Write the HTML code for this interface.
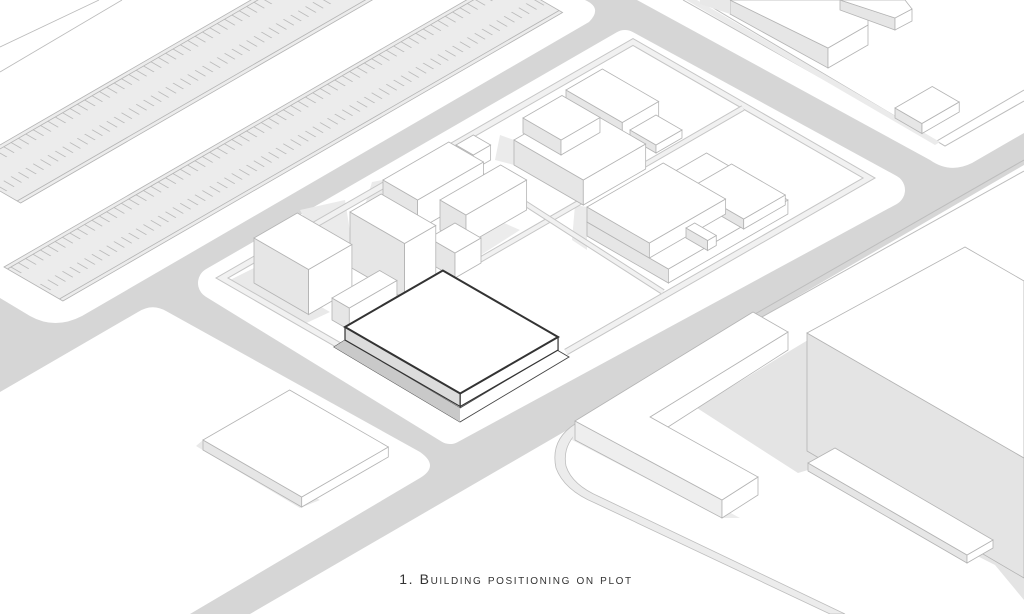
<!DOCTYPE html>
<html><head><meta charset="utf-8"><style>
html,body{margin:0;padding:0;background:#fff;}
svg{display:block;}
.e{stroke:#b4b4b4;stroke-width:0.8;vector-effect:non-scaling-stroke;}
.t{fill:#fff;}
.l{fill:#e6e6e6;}
.r{fill:#fff;}
.cap{font-family:"Liberation Sans Narrow","Liberation Sans",sans-serif;font-variant:small-caps;font-size:14px;letter-spacing:1.6px;fill:#333;}
</style></head><body>
<svg width="1024" height="614" viewBox="0 0 1024 614" xmlns="http://www.w3.org/2000/svg">
<defs>
<pattern id="ticks" width="8.5" height="70" patternUnits="userSpaceOnUse">
<line x1="4" y1="4" x2="4" y2="16" stroke="#b0b0b0" stroke-width="0.8" vector-effect="non-scaling-stroke"/>
<line x1="4" y1="38" x2="4" y2="50" stroke="#b0b0b0" stroke-width="0.8" vector-effect="non-scaling-stroke"/>
</pattern>
</defs>
<!-- road background -->
<rect width="1024" height="614" fill="#d6d6d6"/>
<!-- parking block -->
<path d="M0,0 H585 Q603,8 589,22 L82,316 Q55,330 30,316 L0,298 Z" fill="#fff"/>
<!-- central block -->
<polygon points="214,283 625,46 889,190 450,428" fill="#fff" stroke="#fff" stroke-width="32" stroke-linejoin="round"/>
<!-- lower-left block -->
<path d="M0,392 L138,312 Q152,303 166,311 L420,452 Q440,466 420,478 L190,614 L0,614 Z" fill="#fff"/>
<!-- lower-right region -->
<polygon points="250,614 1024,165 1024,614" fill="#fff"/>
<!-- upper-right block -->
<path d="M637,0 H1024 V133 L972,163 Q950,174 930,160 Z" fill="#fff"/>

<!-- top-left thin lines -->
<line x1="0" y1="47" x2="99" y2="0" stroke="#bbb" stroke-width="0.8"/>
<line x1="0" y1="72" x2="122" y2="0" stroke="#bbb" stroke-width="0.8"/>
<!-- parking strips -->
<g transform="matrix(0.866,-0.5,0.866,0.5,-40,168)">
<rect x="0" y="0" width="700" height="70" fill="#ececec" class="e"/>
<rect x="0" y="0" width="700" height="70" fill="url(#ticks)"/>
<line x1="0" y1="4" x2="700" y2="4" class="e"/><line x1="0" y1="66" x2="700" y2="66" class="e"/>
</g>
<g transform="matrix(0.866,-0.5,0.866,0.5,4,267)">
<rect x="0" y="0" width="577" height="68" fill="#ececec" class="e"/>
<rect x="0" y="0" width="577" height="68" fill="url(#ticks)"/>
<line x1="0" y1="4" x2="577" y2="4" class="e"/><line x1="0" y1="64" x2="577" y2="64" class="e"/>
</g>

<!-- upper-right sidewalk & buildings -->
<polyline points="683,0 935,142 1024,90" fill="none" stroke="#bdbdbd" stroke-width="1"/>
<polyline points="700,0 945,146 1024,101" fill="none" stroke="#bdbdbd" stroke-width="1"/>
<polygon points="686,0 697,0 940,142 935,145" fill="#ebebeb"/>
<polygon points="730,0 828,48 828,68 730,14" class="l e"/>
<polygon points="828,48 868,25 868,45 828,68" class="r e"/>
<polygon points="700,0 730,0 730,14 700,4" fill="#e8e8e8"/>
<polygon points="820,0 868,0 868,25 828,48 730,0" class="t e"/>
<polygon points="840,0 895,18 895,30 840,10" class="l e"/>
<polygon points="895,18 912,9 912,21 895,30" class="r e"/>
<polygon points="870,0 905,0 912,9 895,18 840,0" class="t e"/>
<g transform="matrix(0.866,0.5,0,1,895,108)"><rect width="31" height="10" class="l e"/></g>
<g transform="matrix(0.866,-0.5,0,1,922,123.5)"><rect width="43" height="10" class="r e"/></g>
<g transform="matrix(0.866,-0.5,0.866,0.5,895,108)"><rect width="43" height="31" class="t e"/></g>

<!-- central plot shadows -->
<polygon points="226,282 254,268 330,312 300,326" fill="#e9e9e9"/>
<polygon points="300,210 345,200 352,244 320,250" fill="#ebebeb"/>
<polygon points="372,182 383,180 383,210 365,205" fill="#ebebeb"/>
<polygon points="500,135 514,140 514,165 495,160" fill="#ebebeb"/>
<polygon points="575,205 587,207 587,250 572,240" fill="#ebebeb"/>
<polygon points="486,215 520,230 470,262" fill="#ececec"/>
<!-- plot walls -->
<g fill="none" stroke-linejoin="miter">
<polyline points="460,415 222,278 633,42 869,178 566,352" stroke="#c6c6c6" stroke-width="7"/>
<polyline points="460,415 222,278 633,42 869,178 566,352" stroke="#f1f1f1" stroke-width="5"/>
<line x1="743" y1="108" x2="445" y2="280" stroke="#c6c6c6" stroke-width="6"/>
<line x1="743" y1="108" x2="445" y2="280" stroke="#f1f1f1" stroke-width="4"/>
<line x1="470" y1="168" x2="663" y2="292" stroke="#c6c6c6" stroke-width="6"/>
<line x1="470" y1="168" x2="663" y2="292" stroke="#f1f1f1" stroke-width="4"/>
</g>

<!-- boxes: B5 -->
<g transform="matrix(0.866,0.5,0,1,566,90)"><rect width="65" height="22" class="l e"/></g>
<g transform="matrix(0.866,-0.5,0,1,622.3,122.5)"><rect width="42" height="22" class="r e"/></g>
<g transform="matrix(0.866,-0.5,0.866,0.5,566,90)"><rect width="42" height="65" class="t e"/></g>
<!-- B5s -->
<g transform="matrix(0.866,0.5,0,1,630,130)"><rect width="30" height="8" class="l e"/></g>
<g transform="matrix(0.866,-0.5,0,1,656,145)"><rect width="30" height="8" class="r e"/></g>
<g transform="matrix(0.866,-0.5,0.866,0.5,630,130)"><rect width="30" height="30" class="t e"/></g>
<!-- B4a -->
<g transform="matrix(0.866,0.5,0,1,514,140)"><rect width="80" height="25" class="l e"/></g>
<g transform="matrix(0.866,-0.5,0,1,583.3,180)"><rect width="72" height="25" class="r e"/></g>
<g transform="matrix(0.866,-0.5,0.866,0.5,514,140)"><rect width="72" height="80" class="t e"/></g>
<!-- B4b -->
<g transform="matrix(0.866,0.5,0,1,523,118)"><rect width="44" height="15" class="l e"/></g>
<g transform="matrix(0.866,-0.5,0,1,561,140)"><rect width="45" height="15" class="r e"/></g>
<g transform="matrix(0.866,-0.5,0.866,0.5,523,118)"><rect width="45" height="44" class="t e"/></g>
<!-- B3d -->
<g transform="matrix(0.866,0.5,0,1,456,145)"><rect width="20" height="15" class="l e"/></g>
<g transform="matrix(0.866,-0.5,0,1,473.3,155)"><rect width="20" height="15" class="r e"/></g>
<g transform="matrix(0.866,-0.5,0.866,0.5,456,145)"><rect width="20" height="20" class="t e"/></g>
<!-- B3a -->
<g transform="matrix(0.866,0.5,0,1,383,180)"><rect width="40" height="30" class="l e"/></g>
<g transform="matrix(0.866,-0.5,0,1,417.6,200)"><rect width="76" height="30" class="r e"/></g>
<g transform="matrix(0.866,-0.5,0.866,0.5,383,180)"><rect width="76" height="40" class="t e"/></g>
<!-- B3b -->
<g transform="matrix(0.866,0.5,0,1,440,200)"><rect width="30" height="30" class="l e"/></g>
<g transform="matrix(0.866,-0.5,0,1,466,215)"><rect width="70" height="30" class="r e"/></g>
<g transform="matrix(0.866,-0.5,0.866,0.5,440,200)"><rect width="70" height="30" class="t e"/></g>
<!-- B3c -->
<g transform="matrix(0.866,0.5,0,1,429,238)"><rect width="30" height="25" class="l e"/></g>
<g transform="matrix(0.866,-0.5,0,1,455,253)"><rect width="30" height="25" class="r e"/></g>
<g transform="matrix(0.866,-0.5,0.866,0.5,429,238)"><rect width="30" height="30" class="t e"/></g>
<!-- B1b -->
<g transform="matrix(0.866,0.5,0,1,350,212)"><rect width="63" height="55" class="l e"/></g>
<g transform="matrix(0.866,-0.5,0,1,404.6,243.5)"><rect width="36" height="55" class="r e"/></g>
<g transform="matrix(0.866,-0.5,0.866,0.5,350,212)"><rect width="36" height="63" class="t e"/></g>
<!-- B1 -->
<g transform="matrix(0.866,0.5,0,1,254,238)"><rect width="63" height="45" class="l e"/></g>
<g transform="matrix(0.866,-0.5,0,1,308.6,269.5)"><rect width="50" height="45" class="r e"/></g>
<g transform="matrix(0.866,-0.5,0.866,0.5,254,238)"><rect width="50" height="63" class="t e"/></g>
<!-- B2 -->
<g transform="matrix(0.866,0.5,0,1,332,298)"><rect width="20" height="22" class="l e"/></g>
<g transform="matrix(0.866,-0.5,0,1,349.3,308)"><rect width="55" height="22" class="r e"/></g>
<g transform="matrix(0.866,-0.5,0.866,0.5,332,298)"><rect width="55" height="20" class="t e"/></g>
<!-- B6 base -->
<g transform="matrix(0.866,0.5,0,1,587,222)"><rect width="94" height="14" class="l e"/></g>
<g transform="matrix(0.866,-0.5,0,1,668.4,269)"><rect width="138" height="14" class="r e"/></g>
<g transform="matrix(0.866,-0.5,0.866,0.5,587,222)"><rect width="138" height="94" class="t e"/></g>
<!-- B6c -->
<g transform="matrix(0.866,0.5,0,1,690,188)"><rect width="62" height="10" class="l e"/></g>
<g transform="matrix(0.866,-0.5,0,1,743.7,219)"><rect width="48" height="10" class="r e"/></g>
<g transform="matrix(0.866,-0.5,0.866,0.5,690,188)"><rect width="48" height="62" class="t e"/></g>
<!-- B6a -->
<g transform="matrix(0.866,0.5,0,1,587,207)"><rect width="72" height="15" class="l e"/></g>
<g transform="matrix(0.866,-0.5,0,1,649.4,243)"><rect width="88" height="15" class="r e"/></g>
<g transform="matrix(0.866,-0.5,0.866,0.5,587,207)"><rect width="88" height="72" class="t e"/></g>
<!-- B6s -->
<g transform="matrix(0.866,0.5,0,1,686,228)"><rect width="25" height="10" class="l e"/></g>
<g transform="matrix(0.866,-0.5,0,1,707.6,240.5)"><rect width="10" height="10" class="r e"/></g>
<g transform="matrix(0.866,-0.5,0.866,0.5,686,228)"><rect width="10" height="25" class="t e"/></g>

<!-- highlighted building -->
<polygon points="334,347 460,422 569,357 557,350 460,408 345,340" fill="#fff" stroke="#444" stroke-width="0.9"/>
<polygon points="334,347 345,340 460,408 460,422" fill="#c9c9c9"/>
<g transform="matrix(0.866,0.5,0,1,345,327)"><rect width="133" height="13" fill="#dcdcdc" stroke="#333" stroke-width="1.2" vector-effect="non-scaling-stroke"/></g>
<g transform="matrix(0.866,-0.5,0,1,460.2,393.5)"><rect width="113" height="13" fill="#fff" stroke="#333" stroke-width="1.2" vector-effect="non-scaling-stroke"/></g>
<g transform="matrix(0.866,-0.5,0.866,0.5,345,327)"><rect width="113" height="133" fill="#fff" stroke="#333" stroke-width="2" vector-effect="non-scaling-stroke"/></g>

<!-- lower-left building -->
<polygon points="196,446 300,508 320,500 203,440" fill="#e9e9e9"/>
<g transform="matrix(0.866,0.5,0,1,203,440)"><rect width="114" height="10" class="l e"/></g>
<g transform="matrix(0.866,-0.5,0,1,301.7,497)"><rect width="100" height="10" class="r e"/></g>
<g transform="matrix(0.866,-0.5,0.866,0.5,203,440)"><rect width="100" height="114" class="t e"/></g>

<!-- lower-right sidewalk lines -->
<polyline points="748,318 1024,160" fill="none" stroke="#bdbdbd" stroke-width="1"/>
<polyline points="760,318 1024,171" fill="none" stroke="#bdbdbd" stroke-width="1"/>
<path d="M575,424 Q550,440 556,468 Q564,490 595,503 L830,614 L845,614 L600,497 Q572,485 566,466 Q562,445 580,430 Z" fill="#ececec" stroke="#bdbdbd" stroke-width="0.8"/>

<!-- shadow region -->
<polygon points="697,408 788,352 808,340 1024,462 1024,600 995,565 808,470 798,473" fill="#e4e4e4"/>
<polygon points="572,440 722,518 740,518 575,430" fill="#ececec"/>
<!-- big building -->
<polygon points="807,333 1024,458 1024,578 807,451" fill="#e4e4e4" stroke="#b4b4b4" stroke-width="0.8"/>
<polygon points="807,333 965,247 1024,281 1024,458" fill="#fff" stroke="#b4b4b4" stroke-width="0.8"/>
<!-- bar -->
<polygon points="808,463 967,555 967,563 808,471" class="l e"/>
<polygon points="967,555 993,540 993,548 967,563" class="r e"/>
<polygon points="808,463 835,448 993,540 967,555" class="t e"/>
<!-- L building -->
<polygon points="575,421 722,500 722,518 575,440" fill="#eeeeee" stroke="#b4b4b4" stroke-width="0.8"/>
<polygon points="722,500 758,477 758,495 722,518" fill="#fff" stroke="#b4b4b4" stroke-width="0.8"/>
<polygon points="650,417 788,332 788,350 668,427" fill="#fff" stroke="#b4b4b4" stroke-width="0.8"/>
<polygon points="753,312 788,332 650,417 758,477 722,500 575,421" fill="#fff" stroke="#b4b4b4" stroke-width="0.8"/>

<text x="516" y="584" text-anchor="middle" class="cap">1. Building positioning on plot</text>
</svg>
</body></html>
